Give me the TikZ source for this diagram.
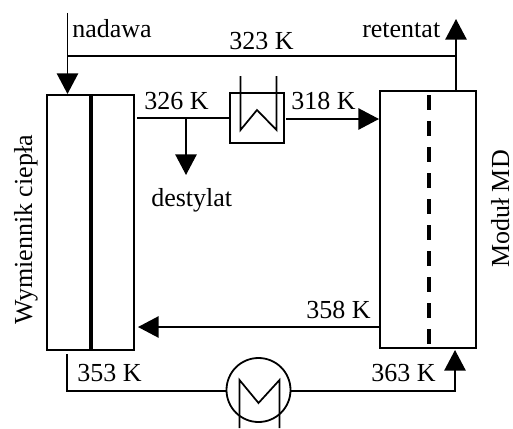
\documentclass[tikz,border=0pt]{standalone}
\usepackage{fontspec}
\setmainfont{Liberation Serif}
\usetikzlibrary{arrows.meta,positioning}

\tikzset{
  unit/.style={draw,line width=1.35pt,inner sep=0pt,rectangle},
  pipe/.style={line width=1.3pt},
  flow/.style={line width=1.3pt,-{Triangle[length=15.5pt,width=16pt]},shorten >=0pt},
  lab/.style={anchor=base west,inner sep=0pt,font=\fontsize{19.5}{20}\selectfont},
  vlab/.style={anchor=base,rotate=90,inner sep=0pt,font=\fontsize{19.5}{20}\selectfont}
}

\begin{document}
\begin{tikzpicture}[x=0.75pt,y=-0.75pt]
\useasboundingbox (0,0) rectangle (513,428);
% Heat exchanger and membrane module
\node[unit,minimum width=65.25pt,minimum height=191.25pt] (wym) at (90.5,222.5) {};
\node[unit,minimum width=72pt,minimum height=192.75pt] (mod) at (428,219.5) {};
\draw[line width=2.8pt] (wym.north -| 91,0) -- (wym.south -| 91,0);
\draw[line width=2.8pt,dash pattern=on 11.25pt off 8.25pt] (429,95) -- (429,346);
% Cooler
\node[unit,minimum width=40.5pt,minimum height=37.5pt] (cool) at (257,118) {};
\draw[pipe] (240.5,76) -- (240.5,130) -- (257,110) -- (276.5,130) -- (276.5,76);
% Heater
\node[circle,draw,line width=1.35pt,minimum size=48pt,inner sep=0pt] (heat) at (258.5,390) {};
\draw[pipe] (239.5,428) -- (239.5,380) -- (258.5,403) -- (279.5,380) -- (279.5,428);
% Connection points
\coordinate (feedtop) at (67.5,13);
\coordinate (feedin) at (67.5,94);
\coordinate (feedjoin) at (67.5,56);
\coordinate (retout) at (456,19);
\coordinate (retjoin) at (456,56);
\coordinate (retbase) at (456,91);
\coordinate (wymout) at (137,118);
\coordinate (destjoin) at (186,118);
\coordinate (destend) at (186,175);
\coordinate (coolout) at (286,119);
\coordinate (modin) at (379,119);
\coordinate (modout) at (380,327);
\coordinate (wymin) at (138,327);
\coordinate (botstart) at (67,354);
\coordinate (botcorner) at (67,391);
\coordinate (botright) at (455,391);
\coordinate (modbot) at (455,350);
% Streams
\draw[flow] (feedtop) -- (feedin);
\draw[pipe] (feedjoin) -- (retjoin);
\draw[flow] (retbase) -- (retout);
\draw[pipe] (wymout) -- (cool.west |- wymout);
\draw[flow] (destjoin) -- (destend);
\draw[flow] (coolout) -- (modin);
\draw[flow] (modout) -- (wymin);
\draw[pipe] (botstart) -- (botcorner) -- (botcorner -| heat.west);
\draw[flow] (heat.east |- botright) -- (botright) -- (modbot);
% Labels
\node[lab] (nad) at (72,38) {nadawa};
\node[lab] (t323) at (229,50) {323 K};
\node[lab] (ret) at (362,38) {retentat};
\node[lab] (t326) at (144,109) {326 K};
\node[lab] (t318) at (291,109) {318 K};
\node[lab] (dest) at (151,206) {destylat};
\node[lab] (t358) at (306,318) {358 K};
\node[lab] (t353) at (77,381) {353 K};
\node[lab] (t363) at (371,381) {363 K};
\node[vlab] (wymlab) at (32,230) {Wymiennik ciepła};
\node[vlab] (modlab) at (509,209) {Moduł MD};
\end{tikzpicture}
\end{document}
